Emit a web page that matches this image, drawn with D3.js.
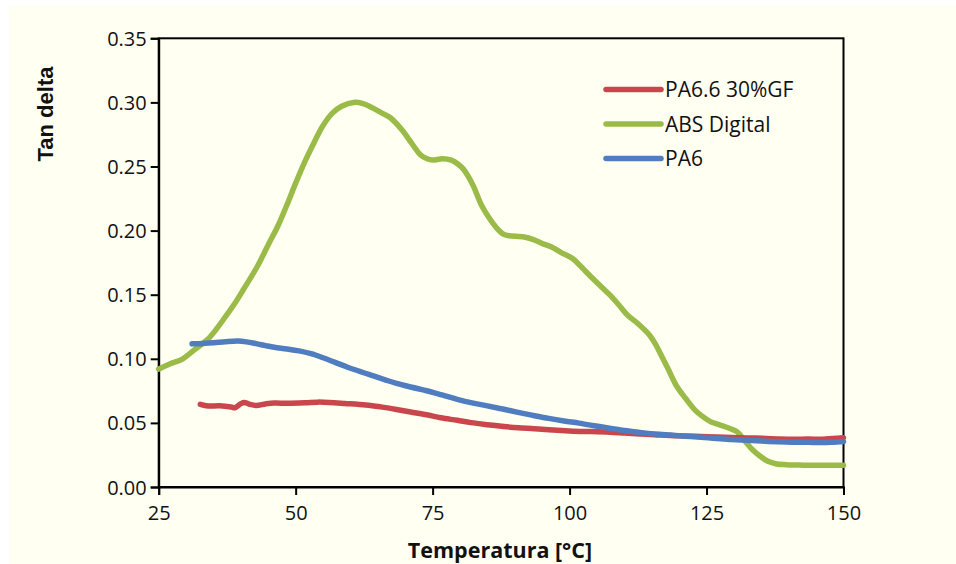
<!DOCTYPE html>
<html>
<head>
<meta charset="utf-8">
<script src="https://cdn.jsdelivr.net/npm/d3@7"></script>
<style>
  body { margin: 0; background: #fff; }
  svg { display: block; }
</style>
</head>
<body>
<svg id="chart" width="956" height="564"></svg>
<script>
// series: [temperature, tan delta]
var seriesNames = ["PA6.6 30%GF", "ABS Digital", "PA6"]
var seriesColors = ["#c9474c", "#9bbb48", "#4f7dbf"]

var pa66 = [
  [32.6, 0.0645], [34.0, 0.0632], [36.1, 0.0633], [38.2, 0.0624], [38.9, 0.0618],
  [40.0, 0.0650], [40.6, 0.0660], [41.6, 0.0645], [42.8, 0.0636], [44.5, 0.0648],
  [46.1, 0.0655], [48.5, 0.0653], [51.7, 0.0657], [54.0, 0.0662], [56.1, 0.0660],
  [59.0, 0.0652], [62.8, 0.0640], [65.5, 0.0625], [68.4, 0.0605], [71.0, 0.0585],
  [73.9, 0.0563], [76.5, 0.0540], [79.5, 0.0520], [82.0, 0.0502], [85.0, 0.0486],
  [88.0, 0.0472], [90.6, 0.0462], [93.5, 0.0455], [96.2, 0.0447], [98.5, 0.0440],
  [100.6, 0.0434], [104.0, 0.0432], [107.3, 0.0428], [110.0, 0.0421], [112.8, 0.0414],
  [115.5, 0.0408], [118.4, 0.0401], [121.0, 0.0398], [124.0, 0.0394], [127.0, 0.0390],
  [129.5, 0.0386], [132.5, 0.0383], [135.1, 0.0380], [138.0, 0.0375], [140.7, 0.0372],
  [143.5, 0.0374], [146.2, 0.0372], [148.0, 0.0378], [150.0, 0.0385]
]

var abs = [
  [25.0, 0.092], [27.0, 0.096], [29.4, 0.100], [31.5, 0.107], [33.9, 0.115],
  [35.5, 0.123], [37.2, 0.133], [39.0, 0.144], [40.6, 0.155], [43.0, 0.172],
  [45.0, 0.189], [46.8, 0.204], [48.4, 0.220], [50.0, 0.237], [51.7, 0.254],
  [53.4, 0.269], [55.0, 0.282], [56.8, 0.292], [58.4, 0.297], [60.6, 0.300],
  [62.3, 0.299], [63.9, 0.296], [65.6, 0.292], [67.3, 0.288], [69.5, 0.278],
  [71.2, 0.268], [72.8, 0.259], [74.0, 0.256], [75.0, 0.255], [76.8, 0.256],
  [78.4, 0.255], [79.6, 0.252], [80.6, 0.248], [82.3, 0.236], [83.9, 0.220],
  [85.3, 0.210], [86.7, 0.202], [88.0, 0.197], [88.9, 0.196], [91.7, 0.195],
  [93.4, 0.193], [95.0, 0.190], [96.8, 0.187], [98.4, 0.183], [100.6, 0.178],
  [102.3, 0.171], [103.9, 0.164], [105.6, 0.157], [107.3, 0.150], [109.0, 0.142],
  [110.6, 0.134], [112.6, 0.127], [114.5, 0.119], [115.6, 0.112], [116.7, 0.103],
  [118.0, 0.092], [119.5, 0.079], [121.2, 0.069], [122.9, 0.060], [124.3, 0.055],
  [125.7, 0.051], [127.0, 0.049], [128.4, 0.047], [129.6, 0.045], [130.6, 0.043],
  [132.0, 0.036], [133.4, 0.029], [134.8, 0.024], [136.2, 0.020], [137.8, 0.018],
  [139.5, 0.0174], [142.0, 0.0171], [144.0, 0.0169], [147.0, 0.0169], [150.0, 0.0169]
]

var pa6 = [
  [31.1, 0.1117], [33.0, 0.1120], [35.0, 0.1125], [37.2, 0.1133], [39.5, 0.1138],
  [41.0, 0.1132], [42.8, 0.1118], [44.5, 0.1103], [46.1, 0.1090], [48.4, 0.1077],
  [50.6, 0.1062], [52.8, 0.1040], [55.0, 0.1008], [57.2, 0.0972], [59.5, 0.0934],
  [61.7, 0.0902], [63.9, 0.0870], [66.2, 0.0838], [68.4, 0.0808], [71.2, 0.0778],
  [73.9, 0.0751], [76.7, 0.0718], [79.5, 0.0684], [82.2, 0.0656], [85.0, 0.0633],
  [87.8, 0.0608], [90.6, 0.0582], [93.4, 0.0558], [96.2, 0.0535], [99.0, 0.0515],
  [101.7, 0.0498], [104.5, 0.0478], [107.3, 0.0458], [110.0, 0.0440], [112.8, 0.0426],
  [115.6, 0.0414], [118.4, 0.0405], [121.2, 0.0396], [124.0, 0.0388], [126.8, 0.0378],
  [129.5, 0.0371], [132.3, 0.0364], [135.1, 0.0358], [138.0, 0.0353], [140.7, 0.0350],
  [143.5, 0.0349], [146.2, 0.0347], [148.0, 0.0350], [150.0, 0.0355]
]

var xTicks = [25, 50, 75, 100, 125, 150]
var yTicks = [0, 0.05, 0.10, 0.15, 0.20, 0.25, 0.30, 0.35]
var xTitle = "Temperatura [°C]"
var yTitle = "Tan delta"

var svg = d3.select("#chart")
var plotL = 158.7, plotR = 843.5, plotT = 38.3, plotB = 487

// cream page background, with a thin white margin top and left
svg.append("rect")
  .attr("x", 9).attr("y", 6)
  .attr("width", 956 - 9).attr("height", 564 - 6)
  .attr("fill", "#fffff2")

var x = d3.scaleLinear().domain([25, 150]).range([plotL, plotR])
var y = d3.scaleLinear().domain([0, 0.35]).range([plotB, plotT])

var font = "'Open Sans', Lato, sans-serif"

// frame
svg.append("rect")
  .attr("x", plotL).attr("y", plotT)
  .attr("width", plotR - plotL).attr("height", plotB - plotT)
  .attr("fill", "none")
  .attr("stroke", "#000")
  .attr("stroke-width", 2)

var xAxis = svg.append("g")
  .attr("transform", "translate(0," + plotB + ")")
  .call(d3.axisBottom(x).tickValues(xTicks).tickSize(8).tickFormat(d3.format("d")))
var yAxis = svg.append("g")
  .attr("transform", "translate(" + plotL + ",0)")
  .call(d3.axisLeft(y).tickValues(yTicks).tickSize(8).tickFormat(d3.format(".2f")))

;[xAxis, yAxis].forEach(function(a) {
  a.select(".domain").attr("stroke", "#000").attr("stroke-width", 2)
  a.selectAll(".tick line").attr("stroke", "#000").attr("stroke-width", 2)
  a.selectAll(".tick text")
    .attr("fill", "#111")
    .style("font-family", font)
    .style("font-size", "20px")
})
xAxis.selectAll(".tick text").attr("y", 19)
yAxis.selectAll(".tick text").attr("x", -12).attr("dy", "0.35em")

// lines
var line = d3.line()
  .curve(d3.curveCatmullRom)
  .x(function(d) { return x(d[0]) })
  .y(function(d) { return y(d[1]) })

var data = [pa66, abs, pa6]
var drawOrder = [1, 0, 2]
drawOrder.forEach(function(i) {
  svg.append("path")
    .datum(data[i])
    .attr("d", line)
    .attr("fill", "none")
    .attr("stroke", seriesColors[i])
    .attr("stroke-width", 5.5)
    .attr("stroke-linecap", "round")
    .attr("stroke-linejoin", "round")
})

// legend
var legend = svg.append("g")
  .selectAll("g")
  .data(seriesNames)
  .enter().append("g")
  .attr("transform", function(d, i) {
    return "translate(606," + (89.5 + i * 34.5) + ")"
  })

legend.append("line")
  .attr("x1", 0).attr("x2", 55)
  .attr("stroke", function(d, i) { return seriesColors[i] })
  .attr("stroke-width", 5.5)
  .attr("stroke-linecap", "round")

legend.append("text")
  .attr("x", 59)
  .attr("dy", "0.36em")
  .style("font-family", font)
  .style("font-size", "21px")
  .attr("fill", "#111")
  .text(function(d) { return d })

// axis titles
svg.append("text")
  .attr("x", 500).attr("y", 558)
  .attr("text-anchor", "middle")
  .style("font-family", font)
  .style("font-size", "21.5px")
  .style("font-weight", "bold")
  .attr("fill", "#111")
  .text(xTitle)

svg.append("text")
  .attr("transform", "translate(53,114) rotate(-90)")
  .attr("text-anchor", "middle")
  .style("font-family", "'Liberation Sans', Arial, sans-serif")
  .style("font-size", "22px")
  .style("font-weight", "bold")
  .attr("fill", "#111")
  .text(yTitle)
</script>
</body>
</html>
